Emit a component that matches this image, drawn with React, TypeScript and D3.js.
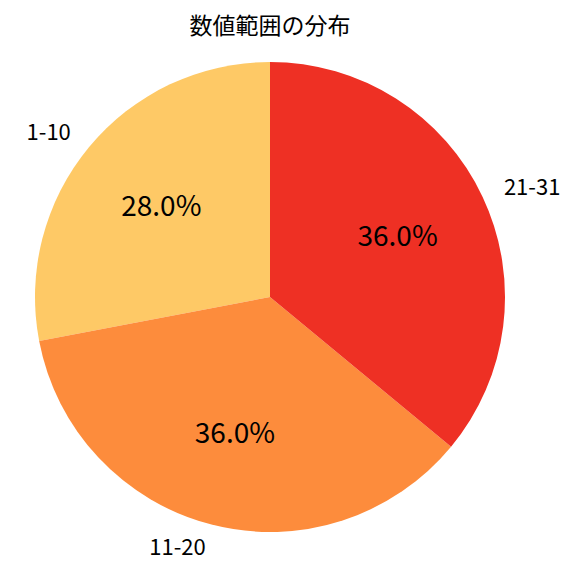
import * as d3 from 'd3'

const categories = ['1-10', '11-20', '21-31']
const values = [28, 36, 36]
const colors = ['#fec966', '#fd8c3c', '#ee3024']
const title = '数値範囲の分布'

const W = 576
const H = 576
const cx = 270
const cy = 297
const R = 235

export default function App() {
  const total = d3.sum(values)
  // counterclockwise from 12 o'clock, like matplotlib startangle=90
  const pie = d3
    .pie<number>()
    .sort(null)
    .startAngle(0)
    .endAngle(-2 * Math.PI)
  const arcs = pie(values)
  const arc = d3.arc<d3.PieArcDatum<number>>().innerRadius(0).outerRadius(R)
  const font = '"Noto Sans CJK JP", "Noto Sans", sans-serif'

  const at = (a: number, r: number) => [cx + r * Math.sin(a), cy - r * Math.cos(a)]

  return (
    <svg width={W} height={H} style={{ position: 'absolute', left: 0, top: 0 }}>
      <rect width={W} height={H} fill="#fff" />
      <text x={270} y={24} textAnchor="middle" dominantBaseline="central" fontFamily={font} fontSize={23} fill="#000">
        {title}
      </text>
      <g transform={`translate(${cx},${cy})`}>
        {arcs.map((d, i) => (
          <path key={i} d={arc(d) ?? ''} fill={colors[i]} />
        ))}
      </g>
      {arcs.map((d, i) => {
        const mid = (d.startAngle + d.endAngle) / 2
        const [lx, ly] = at(mid, R * 1.1)
        const [px, py] = at(mid, R * 0.6)
        return (
          <g key={i} fontFamily={font}>
            <text
              x={lx}
              y={ly - 2}
              textAnchor={Math.sin(mid) < 0 ? 'end' : 'start'}
              dominantBaseline="central"
              fontSize={22}
              fill="#000"
            >
              {categories[i]}
            </text>
            <text x={px} y={py - 3} textAnchor="middle" dominantBaseline="central" fontSize={28} fill="#000">
              {((values[i] / total) * 100).toFixed(1)}%
            </text>
          </g>
        )
      })}
    </svg>
  )
}
